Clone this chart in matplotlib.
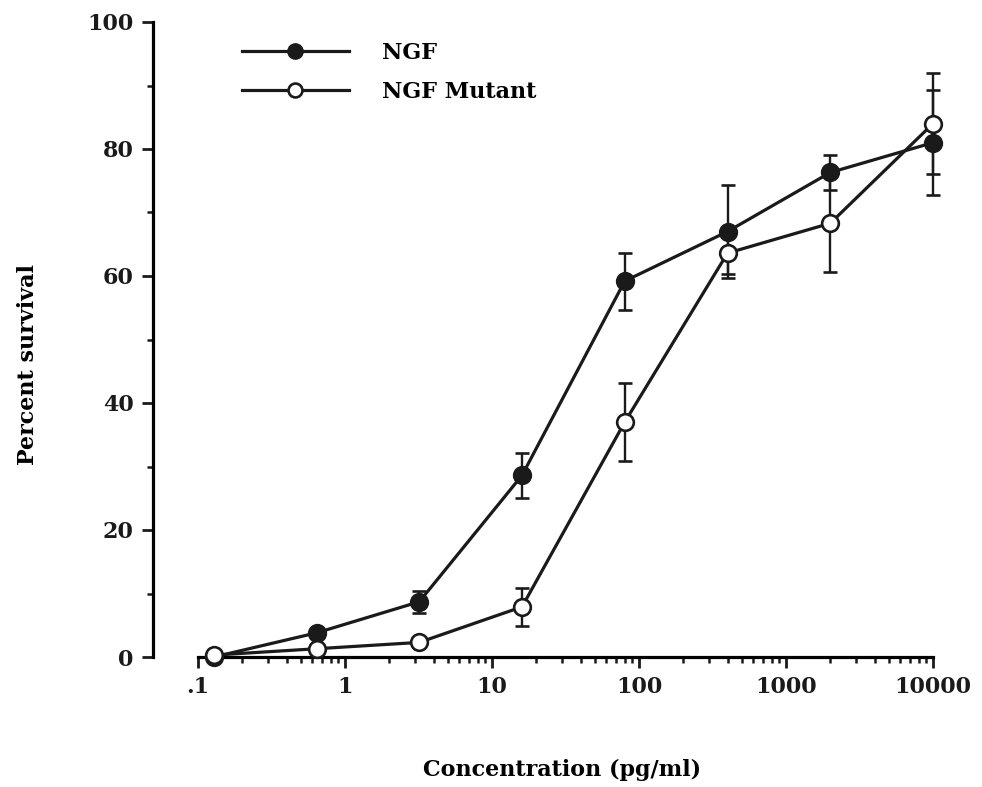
import numpy as np
import matplotlib.pyplot as plt
from matplotlib.lines import Line2D
from matplotlib.ticker import FixedLocator, FixedFormatter, NullFormatter


# DATA
conc = [0.128, 0.64, 3.2, 16, 80, 400, 2000, 10000]
ngf = [0.0, 3.8, 8.7, 28.6, 59.2, 67.0, 76.3, 81.0]
ngf_err = [0.0, 0.8, 1.7, 3.6, 4.5, 7.3, 2.8, 8.3]
mutant = [0.3, 1.3, 2.3, 7.9, 37.0, 63.6, 68.3, 84.0]
mutant_err = [0.0, 0.0, 0.0, 3.0, 6.2, 3.3, 7.6, 8.0]

x_ticks = [0.1, 1, 10, 100, 1000, 10000]
x_tick_labels = [".1", "1", "10", "100", "1000", "10000"]
y_ticks = [0, 20, 40, 60, 80, 100]

FONT = {"family": "DejaVu Serif", "weight": "bold"}
INK = "#1a1a1a"

W, H = 982, 787
DECADE = 147.0  # pixels per decade on the x axis


def px(x0, y0, x1, y1):
    # figure rect from pixel corners (top-left origin)
    return [x0 / W, 1 - y1 / H, (x1 - x0) / W, (y1 - y0) / H]


def main():
    fig = plt.figure(figsize=(W / 100, H / 100), dpi=100)
    ax = fig.add_axes(px(153, 22, 965, 657))

    # line + markers + error bars (open circles sit on top)
    style = dict(color=INK, lw=2.3, elinewidth=1.7, capsize=5, capthick=1.7,
                 marker="o", ms=12, mew=1.9, mec=INK, clip_on=False)
    e1 = ax.errorbar(conc, ngf, yerr=ngf_err, mfc=INK, zorder=3, **style)
    e2 = ax.errorbar(conc, mutant, yerr=mutant_err, mfc="white", zorder=4, **style)
    for e in (e1, e2):
        for art in e.lines[1] + e.lines[2]:
            art.set_clip_on(False)

    ax.set_xscale("log")
    ax.set_xlim(10 ** (-1 - 45 / DECADE), 10 ** (-1 + (965 - 198) / DECADE))
    ax.set_ylim(0, 100)

    ax.spines["top"].set_visible(False)
    ax.spines["right"].set_visible(False)
    ax.spines["left"].set_linewidth(2.3)
    ax.spines["bottom"].set_linewidth(2.3)
    ax.spines["bottom"].set_bounds(0.1, 10000)

    # minor ticks only between .1 and 10000
    minor = [m * 10.0 ** d for d in range(-1, 4) for m in range(2, 10)]
    ax.xaxis.set_major_locator(FixedLocator(x_ticks))
    ax.xaxis.set_major_formatter(FixedFormatter(x_tick_labels))
    ax.xaxis.set_minor_locator(FixedLocator(minor))
    ax.xaxis.set_minor_formatter(NullFormatter())
    ax.set_yticks(y_ticks)
    ax.set_yticks([10, 30, 50, 70, 90], minor=True)

    ax.tick_params(which="major", direction="out", length=8, width=2, pad=6, colors=INK)
    ax.tick_params(which="minor", direction="out", length=4, width=1.8, colors=INK)
    for lab in ax.get_xticklabels() + ax.get_yticklabels():
        lab.set_fontproperties(FONT)
        lab.set_fontsize(16)

    fig.text(562 / W, 1 - 770 / H, "Concentration (pg/ml)", ha="center", va="center",
             fontsize=16, **FONT)
    fig.text(28 / W, 1 - 365 / H, "Percent survival", ha="center", va="center",
             rotation=90, fontsize=16, **FONT)

    # legend
    handles = [
        Line2D([], [], color=INK, lw=2.3, marker="o", ms=11, mfc=INK, mec=INK),
        Line2D([], [], color=INK, lw=2.3, marker="o", ms=10, mfc="white", mec=INK, mew=1.9),
    ]
    ax.legend(handles, ["NGF", "NGF Mutant"], loc="upper left",
              bbox_to_anchor=(242 / W, 1 - 42 / H), bbox_transform=fig.transFigure,
              frameon=False, borderpad=0, borderaxespad=0, handlelength=4.8,
              handletextpad=1.5, labelspacing=0.75,
              prop={"family": "DejaVu Serif", "weight": "bold", "size": 16})

    fig.savefig("out.png", dpi=100)


if __name__ == "__main__":
    main()
